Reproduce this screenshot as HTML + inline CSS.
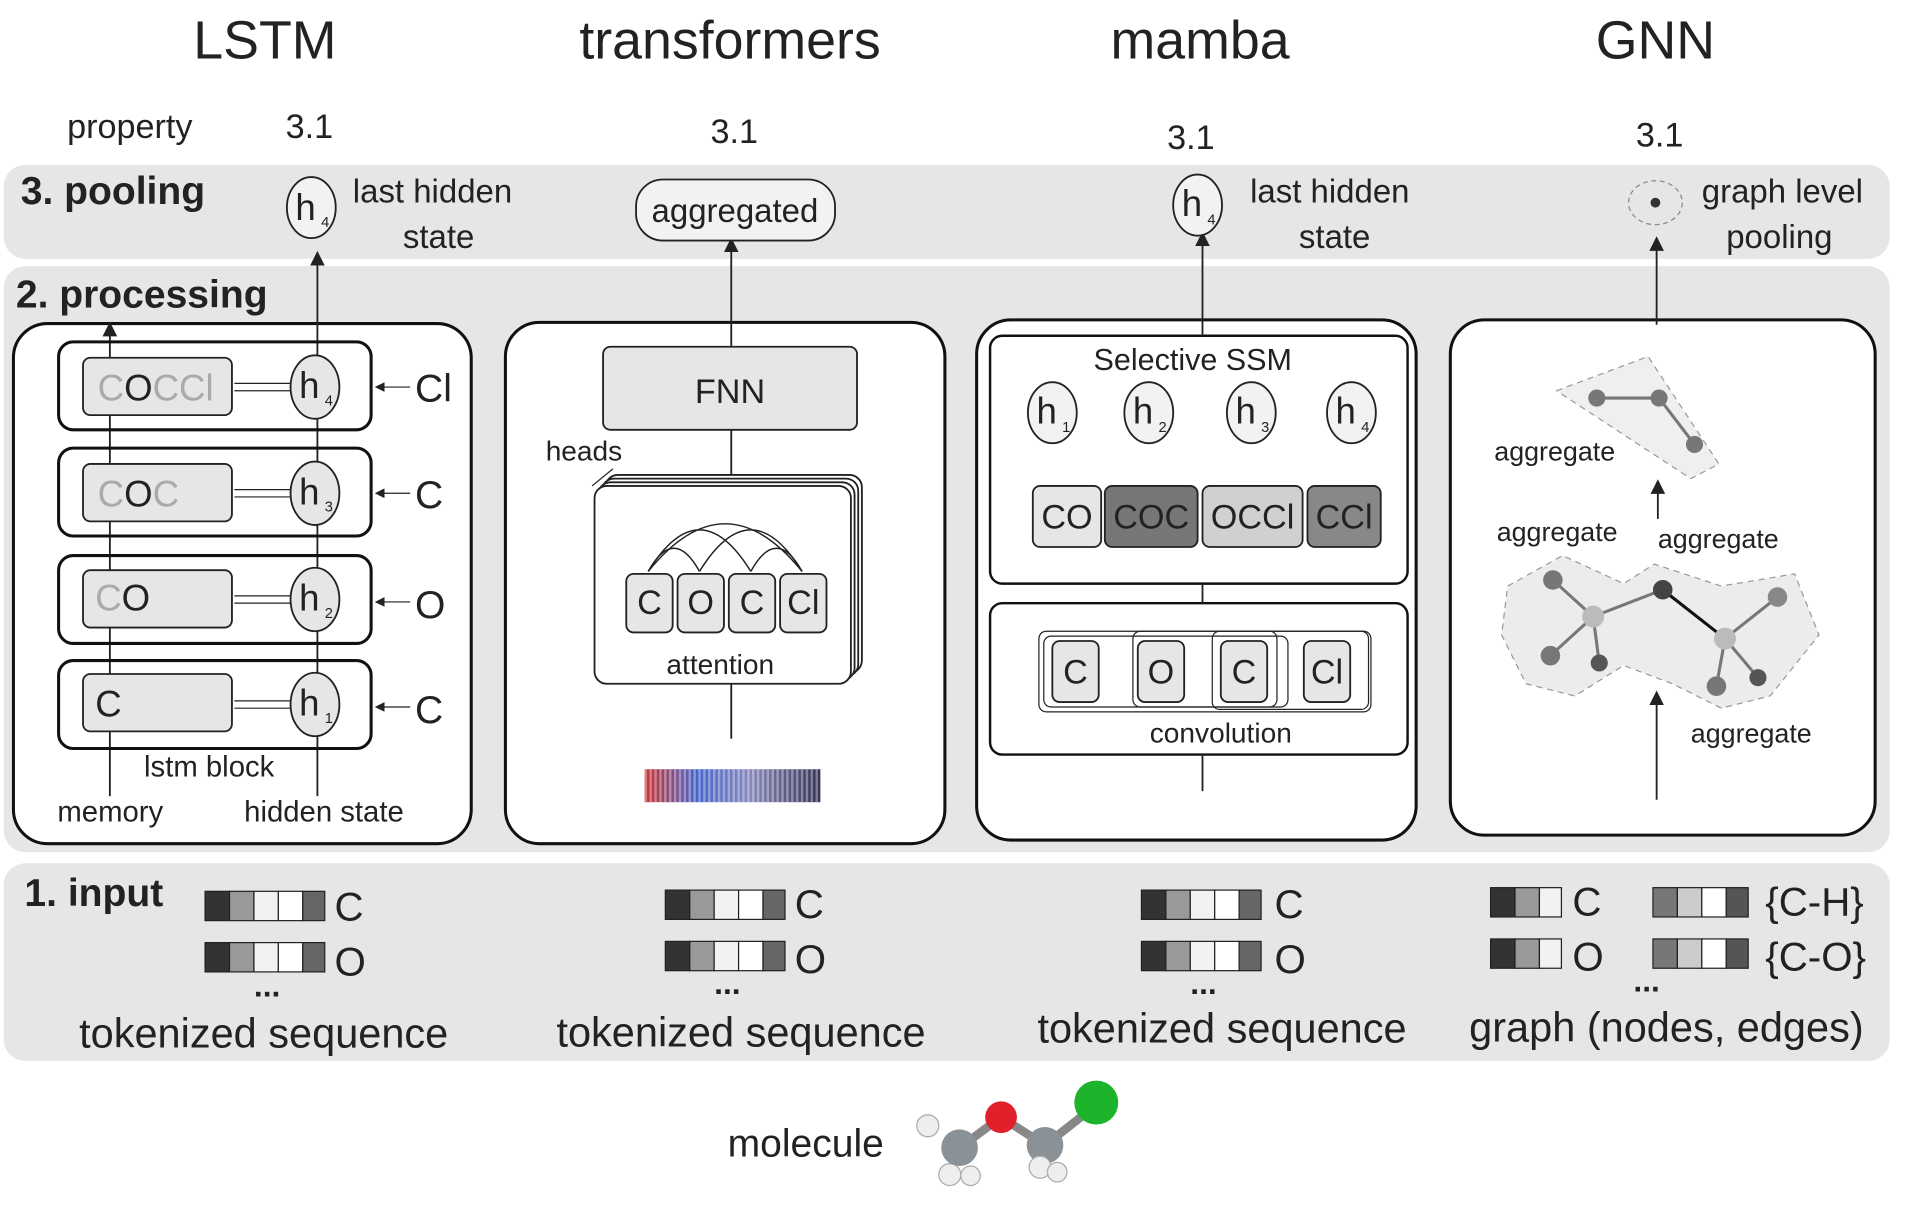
<!DOCTYPE html>
<html><head><meta charset="utf-8"><style>html,body{margin:0;padding:0;background:#fff}svg{display:block}text{font-family:"Liberation Sans",sans-serif;fill:#222}</style></head><body>
<svg width="1913" height="1210" viewBox="0 0 1567 991" preserveAspectRatio="none" xmlns="http://www.w3.org/2000/svg">
<defs>
<linearGradient id="hm" x1="0" x2="1"><stop offset="0" stop-color="#c33"/><stop offset="0.3" stop-color="#46c"/><stop offset="0.6" stop-color="#88b"/><stop offset="1" stop-color="#335"/></linearGradient>
<pattern id="stripes" width="4" height="27" patternUnits="userSpaceOnUse"><rect width="2" height="27" fill="#fff" opacity="0.35"/></pattern>
<marker id="ar" markerWidth="10" markerHeight="10" refX="5" refY="5" orient="auto"><path d="M0,1 L8,5 L0,9 Z" fill="#222"/></marker>
<g id="strip"><rect x="0" y="0" width="20" height="24" fill="#333" stroke="#222"/><rect x="20" y="0" width="20" height="24" fill="#999" stroke="#222"/><rect x="40" y="0" width="20" height="24" fill="#f2f2f2" stroke="#222"/><rect x="60" y="0" width="20" height="24" fill="#fff" stroke="#222"/><rect x="80" y="0" width="18" height="24" fill="#666" stroke="#222"/></g>
<g id="strip3"><rect x="0" y="0" width="20" height="24" fill="#333" stroke="#222"/><rect x="20" y="0" width="20" height="24" fill="#999" stroke="#222"/><rect x="40" y="0" width="18" height="24" fill="#f2f2f2" stroke="#222"/></g>
<g id="strip4"><rect x="0" y="0" width="20" height="24" fill="#777" stroke="#222"/><rect x="20" y="0" width="20" height="24" fill="#ccc" stroke="#222"/><rect x="40" y="0" width="20" height="24" fill="#fff" stroke="#222"/><rect x="60" y="0" width="18" height="24" fill="#555" stroke="#222"/></g>
</defs>
<g font-size="44" text-anchor="middle"><text x="217" y="48">LSTM</text><text x="598" y="48">transformers</text><text x="983" y="48">mamba</text><text x="1356" y="48">GNN</text></g>
<g font-size="28"><text x="55" y="113">property</text><text x="234" y="113">3.1</text><text x="582" y="117">3.1</text><text x="956" y="122">3.1</text><text x="1340" y="120">3.1</text></g>
<rect x="3" y="135" width="1545" height="77" rx="18" fill="#e6e6e6"/>
<rect x="3" y="218" width="1545" height="480" rx="18" fill="#e6e6e6"/>
<rect x="3" y="707" width="1545" height="162" rx="18" fill="#e6e6e6"/>
<g font-size="32" font-weight="bold"><text x="17" y="167">3. pooling</text><text x="13" y="252">2. processing</text><text x="20" y="742">1. input</text></g>
<!-- LSTM -->
<rect x="11" y="265" width="375" height="426" rx="28" fill="#fff" stroke="#111" stroke-width="2.5"/>
<line x1="90" y1="280" x2="90" y2="652" stroke="#222" stroke-width="1.5"/>
<line x1="90" y1="280" x2="90" y2="268" stroke="#222" stroke-width="1.5" marker-end="url(#ar)"/>
<line x1="260" y1="652" x2="260" y2="210" stroke="#222" stroke-width="1.5" marker-end="url(#ar)"/>
<g stroke="#111" stroke-width="2.5" fill="none">
<rect x="48" y="280" width="256" height="72" rx="12"/><rect x="48" y="367" width="256" height="72" rx="12"/><rect x="48" y="455" width="256" height="72" rx="12"/><rect x="48" y="541" width="256" height="72" rx="12"/></g>
<g fill="#e6e6e6" stroke="#222" stroke-width="1.5">
<rect x="68" y="293" width="122" height="47" rx="6"/><rect x="68" y="380" width="122" height="47" rx="6"/><rect x="68" y="467" width="122" height="47" rx="6"/><rect x="68" y="552" width="122" height="47" rx="6"/>
<ellipse cx="258" cy="317" rx="20" ry="26"/><ellipse cx="258" cy="404" rx="20" ry="26"/><ellipse cx="258" cy="491" rx="20" ry="26"/><ellipse cx="258" cy="577" rx="20" ry="26"/></g>
<g font-size="30"><text x="80" y="328"><tspan style="fill:#aaa">C</tspan>O<tspan style="fill:#aaa">CCl</tspan></text><text x="80" y="415"><tspan style="fill:#aaa">C</tspan>O<tspan style="fill:#aaa">C</tspan></text><text x="78" y="500"><tspan style="fill:#aaa">C</tspan>O</text><text x="78" y="587">C</text>
<text x="245" y="326">h</text><text x="245" y="413">h</text><text x="245" y="500">h</text><text x="245" y="586">h</text></g>
<g font-size="12"><text x="266" y="332">4</text><text x="266" y="419">3</text><text x="266" y="506">2</text><text x="266" y="592">1</text></g>
<g stroke="#222" stroke-width="1"><line x1="192" y1="314" x2="238" y2="314"/><line x1="192" y1="320" x2="238" y2="320"/><line x1="192" y1="401" x2="238" y2="401"/><line x1="192" y1="407" x2="238" y2="407"/><line x1="192" y1="488" x2="238" y2="488"/><line x1="192" y1="494" x2="238" y2="494"/><line x1="192" y1="574" x2="238" y2="574"/><line x1="192" y1="580" x2="238" y2="580"/>
<line x1="336" y1="317" x2="310" y2="317" marker-end="url(#ar)"/><line x1="336" y1="404" x2="310" y2="404" marker-end="url(#ar)"/><line x1="336" y1="493" x2="310" y2="493" marker-end="url(#ar)"/><line x1="336" y1="579" x2="310" y2="579" marker-end="url(#ar)"/></g>
<g font-size="32"><text x="340" y="329">Cl</text><text x="340" y="416">C</text><text x="340" y="506">O</text><text x="340" y="592">C</text></g>
<g font-size="24"><text x="118" y="636">lstm block</text><text x="47" y="673">memory</text><text x="200" y="673">hidden state</text></g>
<ellipse cx="255" cy="170" rx="20" ry="25" fill="#f2f2f2" stroke="#222" stroke-width="1.5"/><text x="242" y="180" font-size="30">h</text><text x="263" y="186" font-size="12">4</text>
<g font-size="27"><text x="289" y="166">last hidden</text><text x="330" y="203">state</text></g>
<!-- transformer -->
<rect x="414" y="264" width="360" height="427" rx="28" fill="#fff" stroke="#111" stroke-width="2.5"/>
<line x1="599" y1="284" x2="599" y2="199" stroke="#222" stroke-width="1.5" marker-end="url(#ar)"/>
<rect x="521" y="147" width="163" height="50" rx="22" fill="#f2f2f2" stroke="#222" stroke-width="1.5"/><text x="602" y="182" font-size="27" text-anchor="middle">aggregated</text>
<rect x="494" y="284" width="208" height="68" rx="6" fill="#e6e6e6" stroke="#222" stroke-width="1.5"/><text x="598" y="330" font-size="28" text-anchor="middle">FNN</text>
<line x1="599" y1="352" x2="599" y2="390" stroke="#222" stroke-width="1.5"/><line x1="599" y1="560" x2="599" y2="605" stroke="#222" stroke-width="1.5"/>
<text x="447" y="377" font-size="23">heads</text><line x1="485" y1="398" x2="502" y2="384" stroke="#222"/>
<g fill="#fff" stroke="#222" stroke-width="1.5"><rect x="496" y="389" width="210" height="162" rx="10"/><rect x="493" y="392" width="210" height="162" rx="10"/><rect x="490" y="395" width="210" height="162" rx="10"/><rect x="487" y="398" width="210" height="162" rx="10"/></g>
<g fill="none" stroke="#222" stroke-width="1.2"><path d="M531,468 Q573,400 615,468"/><path d="M573,468 Q615,400 657,468"/><path d="M531,468 Q594,390 657,468"/><path d="M531,468 Q552,430 573,468"/><path d="M615,468 Q636,430 657,468"/></g>
<g fill="#e6e6e6" stroke="#222" stroke-width="1.5"><rect x="513" y="470" width="38" height="48" rx="6"/><rect x="555" y="470" width="38" height="48" rx="6"/><rect x="597" y="470" width="38" height="48" rx="6"/><rect x="639" y="470" width="38" height="48" rx="6"/></g>
<g font-size="28" text-anchor="middle"><text x="532" y="503">C</text><text x="574" y="503">O</text><text x="616" y="503">C</text><text x="658" y="503">Cl</text></g>
<text x="590" y="552" font-size="23" text-anchor="middle">attention</text>
<rect x="528" y="630" width="144" height="27" fill="url(#hm)"/><rect x="528" y="630" width="144" height="27" fill="url(#stripes)"/>
<!-- mamba -->
<rect x="800" y="262" width="360" height="426" rx="28" fill="#fff" stroke="#111" stroke-width="2.5"/>
<rect x="811" y="275" width="342" height="203" rx="10" fill="#fff" stroke="#111" stroke-width="2"/>
<rect x="811" y="494" width="342" height="124" rx="10" fill="#fff" stroke="#111" stroke-width="2"/>
<line x1="985" y1="478" x2="985" y2="494" stroke="#222" stroke-width="1.5"/><line x1="985" y1="618" x2="985" y2="648" stroke="#222" stroke-width="1.5"/>
<line x1="985" y1="275" x2="985" y2="194" stroke="#222" stroke-width="1.5" marker-end="url(#ar)"/>
<text x="977" y="303" font-size="25" text-anchor="middle">Selective  SSM</text>
<g fill="#f2f2f2" stroke="#222" stroke-width="1.5"><ellipse cx="862" cy="338" rx="20" ry="25"/><ellipse cx="941" cy="338" rx="20" ry="25"/><ellipse cx="1025" cy="338" rx="20" ry="25"/><ellipse cx="1107" cy="338" rx="20" ry="25"/><ellipse cx="981" cy="168" rx="20" ry="25"/></g>
<g font-size="30"><text x="849" y="347">h</text><text x="928" y="347">h</text><text x="1012" y="347">h</text><text x="1094" y="347">h</text><text x="968" y="177">h</text></g>
<g font-size="12"><text x="870" y="354">1</text><text x="949" y="354">2</text><text x="1033" y="354">3</text><text x="1115" y="354">4</text><text x="989" y="184">4</text></g>
<g font-size="27"><text x="1024" y="166">last hidden</text><text x="1064" y="203">state</text></g>
<g stroke="#222" stroke-width="1.5"><rect x="846" y="398" width="56" height="50" rx="6" fill="#e6e6e6"/><rect x="905" y="398" width="76" height="50" rx="6" fill="#777"/><rect x="985" y="398" width="82" height="50" rx="6" fill="#d0d0d0"/><rect x="1071" y="398" width="60" height="50" rx="6" fill="#888"/></g>
<g font-size="28" text-anchor="middle"><text x="874" y="433">CO</text><text x="943" y="433">COC</text><text x="1026" y="433">OCCl</text><text x="1101" y="433">CCl</text></g>
<g fill="none" stroke="#222" stroke-width="1"><rect x="851" y="517" width="272" height="66" rx="6"/><rect x="855" y="521" width="200" height="58" rx="6"/><rect x="928" y="517" width="118" height="62" rx="6"/><rect x="993" y="517" width="128" height="64" rx="6"/></g>
<g fill="#e6e6e6" stroke="#222" stroke-width="1.5"><rect x="862" y="525" width="38" height="50" rx="6"/><rect x="932" y="525" width="38" height="50" rx="6"/><rect x="1000" y="525" width="38" height="50" rx="6"/><rect x="1068" y="525" width="38" height="50" rx="6"/></g>
<g font-size="28" text-anchor="middle"><text x="881" y="560">C</text><text x="951" y="560">O</text><text x="1019" y="560">C</text><text x="1087" y="560">Cl</text></g>
<text x="1000" y="608" font-size="23" text-anchor="middle">convolution</text>
<!-- GNN -->
<rect x="1188" y="262" width="348" height="422" rx="28" fill="#fff" stroke="#111" stroke-width="2.5"/>
<line x1="1357" y1="266" x2="1357" y2="198" stroke="#222" stroke-width="1.5" marker-end="url(#ar)"/>
<ellipse cx="1356" cy="166" rx="22" ry="18" fill="#e6e6e6" stroke="#888" stroke-dasharray="4,3"/><circle cx="1356" cy="166" r="4" fill="#333"/>
<g font-size="27"><text x="1394" y="166">graph level</text><text x="1414" y="203">pooling</text></g>
<path d="M1275,320 L1350,292 L1408,380 L1385,392 Z" fill="#efefef" stroke="#999" stroke-dasharray="5,4" stroke-linejoin="round"/>
<path d="M1235,480 L1280,455 L1330,478 L1355,462 L1410,480 L1470,470 L1490,520 L1450,570 L1410,580 L1370,560 L1330,545 L1290,570 L1250,560 L1230,520 Z" fill="#ececec" stroke="#999" stroke-dasharray="5,4"/>
<g stroke="#777" stroke-width="2.5"><line x1="1308" y1="326" x2="1359" y2="326"/><line x1="1359" y1="326" x2="1388" y2="364"/><line x1="1272" y1="475" x2="1305" y2="505"/><line x1="1305" y1="505" x2="1270" y2="537"/><line x1="1305" y1="505" x2="1310" y2="543"/><line x1="1305" y1="505" x2="1362" y2="483"/><line x1="1413" y1="523" x2="1456" y2="489"/><line x1="1413" y1="523" x2="1406" y2="562"/><line x1="1413" y1="523" x2="1440" y2="555"/></g>
<line x1="1362" y1="483" x2="1413" y2="523" stroke="#111" stroke-width="2.5"/>
<g fill="#777"><circle cx="1308" cy="326" r="7"/><circle cx="1359" cy="326" r="7"/><circle cx="1388" cy="364" r="7"/><circle cx="1272" cy="475" r="8"/><circle cx="1270" cy="537" r="8"/><circle cx="1310" cy="543" r="7" fill="#555"/><circle cx="1362" cy="483" r="8" fill="#444"/><circle cx="1456" cy="489" r="8" fill="#888"/><circle cx="1406" cy="562" r="8"/><circle cx="1440" cy="555" r="7" fill="#555"/><circle cx="1305" cy="505" r="9" fill="#bbb"/><circle cx="1413" cy="523" r="9" fill="#bbb"/></g>
<line x1="1358" y1="425" x2="1358" y2="397" stroke="#222" stroke-width="1.5" marker-end="url(#ar)"/>
<line x1="1357" y1="655" x2="1357" y2="570" stroke="#222" stroke-width="1.5" marker-end="url(#ar)"/>
<g font-size="22"><text x="1224" y="377">aggregate</text><text x="1226" y="443">aggregate</text><text x="1358" y="449">aggregate</text><text x="1385" y="608">aggregate</text></g>
<!-- inputs -->
<use href="#strip" x="168" y="730"/><use href="#strip" x="168" y="772"/>
<use href="#strip" x="545" y="729"/><use href="#strip" x="545" y="771"/>
<use href="#strip" x="935" y="729"/><use href="#strip" x="935" y="771"/>
<use href="#strip3" x="1221" y="727"/><use href="#strip3" x="1221" y="769"/>
<use href="#strip4" x="1354" y="727"/><use href="#strip4" x="1354" y="769"/>
<g font-size="33"><text x="274" y="754">C</text><text x="274" y="799">O</text><text x="651" y="752">C</text><text x="651" y="797">O</text><text x="1044" y="752">C</text><text x="1044" y="797">O</text><text x="1288" y="750">C</text><text x="1288" y="795">O</text><text x="1446" y="750">{C-H}</text><text x="1446" y="795">{C-O}</text></g>
<g font-size="26" font-weight="bold"><text x="208" y="816">...</text><text x="585" y="814">...</text><text x="975" y="814">...</text><text x="1338" y="812">...</text></g>
<g font-size="34" text-anchor="middle"><text x="216" y="858">tokenized sequence</text><text x="607" y="857">tokenized sequence</text><text x="1001" y="854">tokenized sequence</text><text x="1365" y="853">graph (nodes, edges)</text></g>
<!-- molecule -->
<text x="596" y="947" font-size="32">molecule</text>
<g stroke="#888" stroke-width="7"><line x1="786" y1="940" x2="820" y2="915"/><line x1="820" y1="915" x2="856" y2="938"/><line x1="856" y1="938" x2="898" y2="905"/></g>
<circle cx="760" cy="922" r="9" fill="#eee" stroke="#aaa"/><circle cx="778" cy="962" r="9" fill="#eee" stroke="#aaa"/><circle cx="795" cy="963" r="8" fill="#eee" stroke="#aaa"/>
<circle cx="786" cy="940" r="15" fill="#8a9298"/>
<circle cx="820" cy="915" r="13" fill="#e0202a"/>
<circle cx="856" cy="938" r="15" fill="#8a9298"/>
<circle cx="852" cy="956" r="9" fill="#eee" stroke="#aaa"/><circle cx="866" cy="960" r="8" fill="#eee" stroke="#aaa"/>
<circle cx="898" cy="903" r="18" fill="#1db32a"/>
</svg>
</body></html>
